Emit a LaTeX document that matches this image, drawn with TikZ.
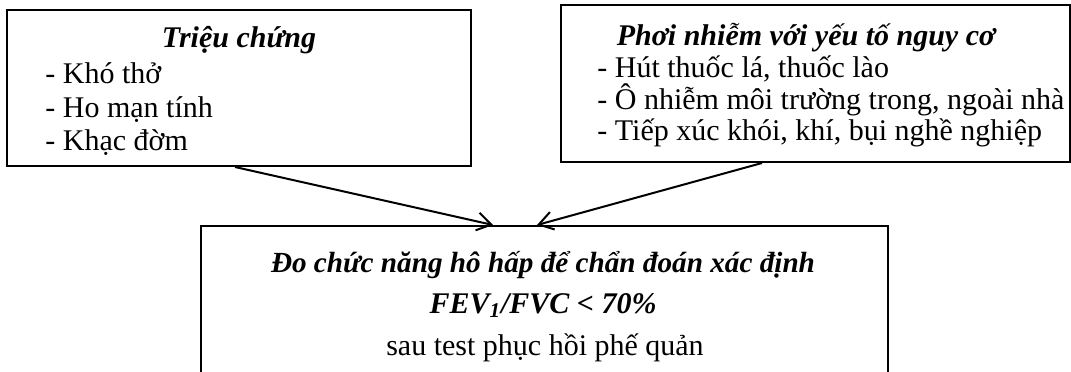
\documentclass[tikz,border=0pt]{standalone}
\usepackage{fontspec}
\setmainfont{Liberation Serif}
\usetikzlibrary{arrows.meta}
\begin{document}
\begin{tikzpicture}[x=0.5pt,y=-0.5pt,
  box/.style={draw, line width=1pt, rectangle, inner sep=0pt},
  txt/.style={inner sep=0pt, font=\fontsize{15}{17}\selectfont},
  ttl/.style={inner sep=0pt, font=\fontsize{15}{17}\selectfont\bfseries\itshape},
  arr/.style={line width=1pt, -{Straight Barb[length=7pt,width=9pt]}}]
\path[use as bounding box] (0,0) rectangle (1071,371);
\clip (0,0) rectangle (1071,371);
% boxes
\node[box, minimum width=232pt, minimum height=78pt] (lbox) at (239,88) {};
\node[box, minimum width=254.5pt, minimum height=78.5pt] (rbox) at (815.5,83.5) {};
\node[box, minimum width=343.5pt, minimum height=100pt] (bot) at (544.5,326) {};
% left text
\node[ttl, anchor=base] (lt) at (239,47) {Triệu chứng};
\node[txt, anchor=base west] (l1) at (45,83) {- Khó thở};
\node[txt, anchor=base west] (l2) at (45,117) {- Ho mạn tính};
\node[txt, anchor=base west] (l3) at (45,150) {- Khạc đờm};
% right text
\node[ttl, anchor=base] (rt) at (806,45) {Phơi nhiễm với yếu tố nguy cơ};
\node[txt, anchor=base west] (r1) at (597,77) {- Hút thuốc lá, thuốc lào};
\node[txt, anchor=base west] (r2) at (597,109) {- Ô nhiễm môi trường trong, ngoài nhà};
\node[txt, anchor=base west] (r3) at (597,140) {- Tiếp xúc khói, khí, bụi nghề nghiệp};
% bottom text
\node[ttl, anchor=base, font=\fontsize{14.6}{17}\selectfont\bfseries\itshape] (bt) at (543,272) {Đo chức năng hô hấp để chẩn đoán xác định};
\node[ttl, anchor=base] (b2) at (543,313) {FEV\textsubscript{1}/FVC < 70\%};
\node[txt, anchor=base] (b3) at (545,355) {sau test phục hồi phế quản};
% arrows
\draw[arr] ([xshift=-2pt]lbox.south) -- ([xshift=-25.75pt]bot.north);
\draw[arr] ([xshift=-26.75pt]rbox.south) -- ([xshift=-3.75pt]bot.north);
\end{tikzpicture}
\end{document}
